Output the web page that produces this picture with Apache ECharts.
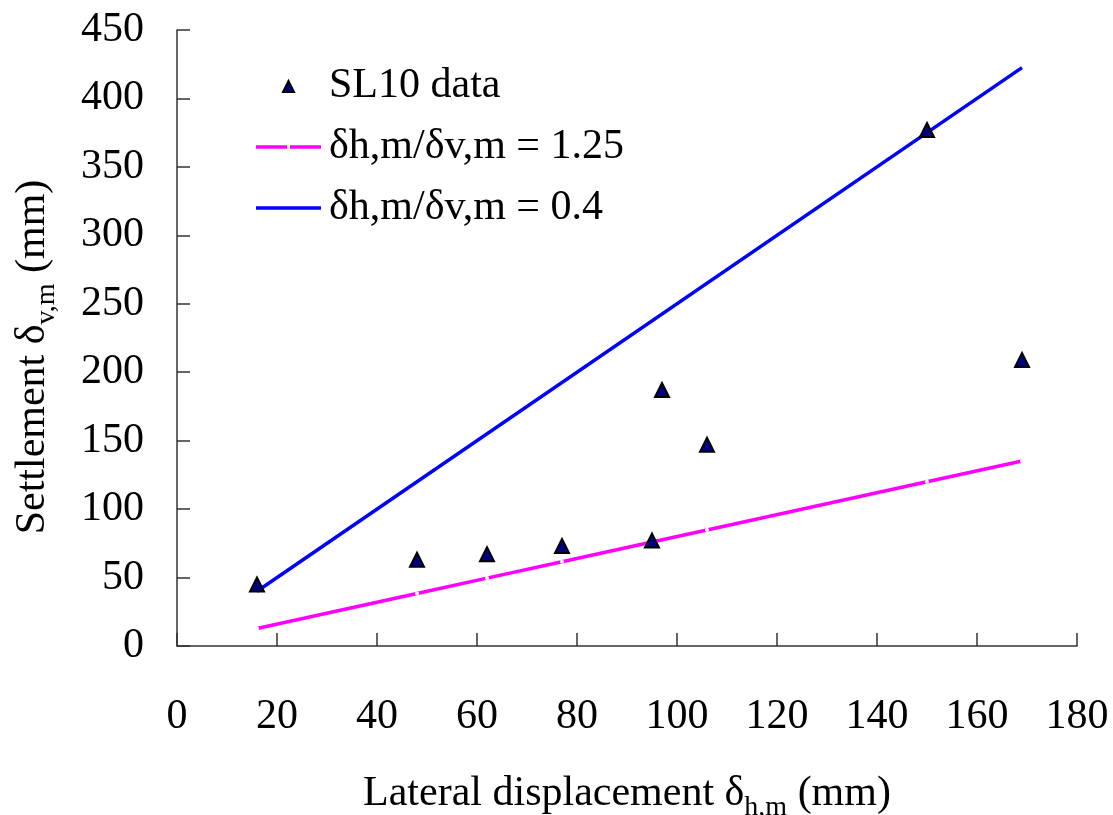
<!DOCTYPE html>
<html>
<head>
<meta charset="utf-8">
<script src="https://cdn.jsdelivr.net/npm/echarts@6/dist/echarts.min.js"></script>
<style>
html,body{margin:0;padding:0;background:#fff;}
#chart{width:1113px;height:815px;}
</style>
</head>
<body>
<div id="chart"></div>
<script>
// Measured data (SL10)
var dataX = [16, 48, 62, 77, 95, 97, 106, 150, 169];
var dataY = [45, 63, 67, 73, 77, 187, 147, 377, 209];

// Reference line dh/dv = 1.25
var pinkX = [16, 48, 62, 77, 95, 106, 150, 169];
var pinkY = [12.8, 38.4, 49.6, 61.6, 76, 84.8, 120, 135.2];

// Reference line dh/dv = 0.4
var blueX = [16, 169];
var blueY = [40, 422.5];

var seriesNames = ['SL10 data', 'δh,m/δv,m = 1.25', 'δh,m/δv,m = 0.4'];
var xTicks = {min: 0, max: 180, interval: 20};
var yTicks = {min: 0, max: 450, interval: 50};

function pairs(xs, ys) { return xs.map(function (x, i) { return [x, ys[i]]; }); }

var FONT = 'Liberation Serif';
var axisColor = '#333';
var NAVY = '#000080', PINK = '#ff00ff', BLUE = '#0000ff';

// legend icons (65x14 box, drawn shapes inside)
var iconTri = 'path://M0,0 M65,14 M27,13 L32.5,2 L38,13 Z';
var iconPink = 'path://M0,0 M65,14 M0,5.2 L31,5.2 L31,8.8 L0,8.8 Z M34,5.2 L65,5.2 L65,8.8 L34,8.8 Z';
var iconBlue = 'path://M0,0 M65,14 M0,5.2 L65,5.2 L65,8.8 L0,8.8 Z';

var chart = echarts.init(document.getElementById('chart'));
chart.setOption({
  backgroundColor: '#fff',
  animation: false,
  textStyle: {fontFamily: FONT, color: '#000'},
  grid: {left: 177, right: 36, top: 30, bottom: 169, containLabel: false, outerBoundsMode: 'none'},
  legend: {
    orient: 'vertical',
    left: 255,
    top: 65,
    padding: 0,
    itemWidth: 65,
    itemHeight: 14,
    itemGap: 19,
    data: [
      {name: seriesNames[0], icon: iconTri, itemStyle: {color: NAVY, borderColor: '#000', borderWidth: 2}},
      {name: seriesNames[1], icon: iconPink, itemStyle: {color: PINK, borderWidth: 0}},
      {name: seriesNames[2], icon: iconBlue, itemStyle: {color: BLUE, borderWidth: 0}}
    ],
    textStyle: {fontFamily: FONT, fontSize: 42, color: '#000', lineHeight: 42, padding: [0, 0, 0, 3]}
  },
  xAxis: {
    type: 'value',
    min: xTicks.min, max: xTicks.max, interval: xTicks.interval,
    name: '{a|Lateral displacement δ}{s|h,m}{a| (mm)}',
    nameLocation: 'middle',
    nameGap: 120,
    nameTextStyle: {
      rich: {
        a: {fontFamily: FONT, fontSize: 42, lineHeight: 56, color: '#000'},
        s: {fontFamily: FONT, fontSize: 28, lineHeight: 28, verticalAlign: 'bottom', color: '#000'}
      }
    },
    axisLine: {onZero: false, lineStyle: {color: axisColor, width: 1.5}},
    axisTick: {inside: true, length: 13, lineStyle: {color: axisColor, width: 1.5}},
    axisLabel: {fontFamily: FONT, fontSize: 42, color: '#000', margin: 50},
    splitLine: {show: false}
  },
  yAxis: {
    type: 'value',
    min: yTicks.min, max: yTicks.max, interval: yTicks.interval,
    name: '{a|Settlement δ}{s|v,m}{a| (mm)}',
    nameLocation: 'middle',
    nameRotate: 90,
    nameGap: 116,
    nameTextStyle: {
      padding: [0, 38, 0, 0],
      rich: {
        a: {fontFamily: FONT, fontSize: 42, lineHeight: 56, color: '#000'},
        s: {fontFamily: FONT, fontSize: 28, lineHeight: 28, verticalAlign: 'bottom', color: '#000'}
      }
    },
    axisLine: {onZero: false, lineStyle: {color: axisColor, width: 1.5}},
    axisTick: {inside: true, length: 13, lineStyle: {color: axisColor, width: 1.5}},
    axisLabel: {fontFamily: FONT, fontSize: 42, color: '#000', margin: 33},
    splitLine: {show: false}
  },
  series: [
    {
      name: seriesNames[0],
      type: 'scatter',
      symbol: 'triangle',
      symbolSize: 14,
      z: 3,
      itemStyle: {color: NAVY, borderColor: '#000', borderWidth: 2, opacity: 1},
      data: pairs(dataX, dataY)
    },
    {
      name: seriesNames[1],
      type: 'line',
      symbol: 'circle',
      symbolSize: 4,
      showSymbol: true,
      z: 2,
      itemStyle: {color: '#fff', borderWidth: 0},
      lineStyle: {color: PINK, width: 3.5},
      color: PINK,
      data: pairs(pinkX, pinkY)
    },
    {
      name: seriesNames[2],
      type: 'line',
      symbol: 'none',
      z: 2,
      lineStyle: {color: BLUE, width: 3.5},
      color: BLUE,
      data: pairs(blueX, blueY)
    }
  ]
});
</script>
</body>
</html>
